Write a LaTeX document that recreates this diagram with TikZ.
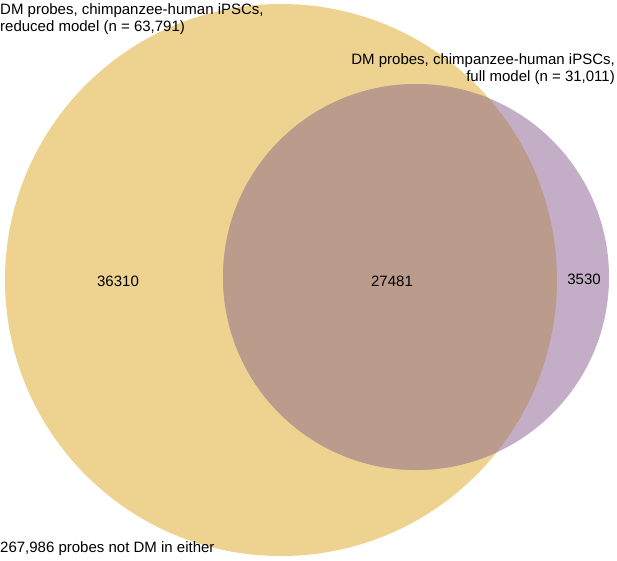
\documentclass[tikz,border=0pt]{standalone}
\usepackage{fontspec}
\setmainfont{Liberation Sans}
\definecolor{yel}{RGB}{237,211,143}
\definecolor{pur}{RGB}{196,174,199}
\definecolor{ovl}{RGB}{187,156,140}
\begin{document}
\begin{tikzpicture}[x=1pt,y=-1pt,
  lbl/.style={font=\fontsize{15}{17.5}\selectfont,inner sep=0pt,align=left},
  num/.style={font=\fontsize{15}{17.5}\selectfont,inner sep=0pt}]
\useasboundingbox (0,0) rectangle (617,560);
\fill[yel] (281,280) circle (276);
\fill[pur] (416,277) circle (193);
\begin{scope}
\clip (281,280) circle (276);
\fill[ovl] (416,277) circle (193);
\end{scope}
\node[lbl,anchor=north west] (a) at (0,3) {DM probes, chimpanzee-human iPSCs,\\reduced model (n = 63,791)};
\node[lbl,anchor=north east,align=right] (b) at (615,53) {DM probes, chimpanzee-human iPSCs,\\full model (n = 31,011)};
\node[lbl,anchor=north west] (c) at (0,541) {267,986 probes not DM in either};
\node[num] (n1) at (118,281) {36310};
\node[num] (n2) at (392,281) {27481};
\node[num] (n3) at (584,279) {3530};
\end{tikzpicture}
\end{document}
